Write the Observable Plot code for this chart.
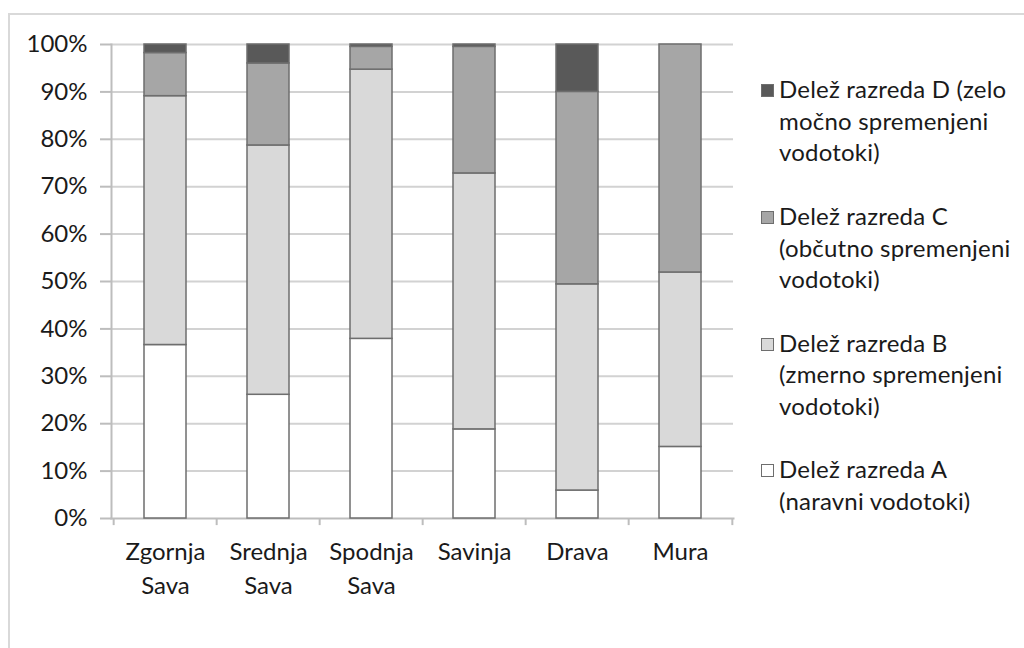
<!DOCTYPE html>
<html>
<head>
<meta charset="utf-8">
<script src="https://cdn.jsdelivr.net/npm/d3@7"></script>
<script src="https://cdn.jsdelivr.net/npm/@observablehq/plot@0.6"></script>
<style>
  html, body { margin: 0; padding: 0; background: #fff; }
  #wrap { position: relative; width: 1024px; height: 648px; overflow: hidden; font-family: Lato, "Open Sans", sans-serif; }
  #border { position: absolute; left: 8px; top: 13px; width: 1100px; height: 700px; border: 2px solid #d9d9d9; box-sizing: border-box; }
  #chart { position: absolute; left: 0; top: 0; }
  #legend { position: absolute; left: 761px; top: 73px; font-size: 24px; line-height: 31.7px; color: #1a1a1a; letter-spacing: 0.2px; }
  .item { position: relative; padding-left: 18px; margin-bottom: 31.7px; white-space: nowrap; }
  .sw { position: absolute; left: 0; top: 11px; width: 11px; height: 11px; border: 1px solid #6e6e6e; }
</style>
</head>
<body>
<div id="wrap">
  <div id="border"></div>
  <div id="chart"></div>
  <div id="legend"></div>
</div>
<script>
const categories = ["Zgornja Sava", "Srednja Sava", "Spodnja Sava", "Savinja", "Drava", "Mura"];
const classes = ["A", "B", "C", "D"];
const shareA = [36.6, 26.1, 37.9, 18.8, 5.9, 15.1];
const shareB = [52.5, 52.6, 56.8, 54.0, 43.5, 36.8];
const shareC = [9.1, 17.3, 4.8, 26.7, 40.6, 48.1];
const shareD = [1.8, 4.0, 0.5, 0.5, 10.0, 0.0];
const yTicks = [0, 10, 20, 30, 40, 50, 60, 70, 80, 90, 100];
const legendLabels = [
  "Delež razreda D (zelo\nmočno spremenjeni\nvodotoki)",
  "Delež razreda C\n(občutno spremenjeni\nvodotoki)",
  "Delež razreda B\n(zmerno spremenjeni\nvodotoki)",
  "Delež razreda A\n(naravni vodotoki)"
];
const legendClasses = ["D", "C", "B", "A"];
const fills = ["#ffffff", "#d9d9d9", "#a6a6a6", "#595959"];

const series = [shareA, shareB, shareC, shareD];
const data = categories.flatMap((c, i) => classes.map((k, j) => ({river: c, cls: k, value: series[j][i]})));

const W = 1024, H = 648, ml = 111, mr = 291, mt = 44, mb = 130;
const step = (W - ml - mr) / categories.length;

const chart = Plot.plot({
  width: W, height: H,
  marginLeft: ml, marginRight: mr, marginTop: mt, marginBottom: mb,
  style: {fontFamily: "Lato, 'Open Sans', sans-serif", fontSize: "24px", color: "#1a1a1a", background: "transparent"},
  x: {domain: categories, paddingInner: 0.595, paddingOuter: 0.2975, label: null},
  y: {domain: [0, 100], label: null},
  color: {domain: classes, range: fills},
  marks: [
    Plot.ruleY(yTicks.filter(d => d > 0), {y: d => d, stroke: "#d2d2d2", strokeWidth: 2}),
    Plot.frame({anchor: "left", stroke: "#bdbdbd", strokeWidth: 2}),
    Plot.frame({anchor: "bottom", stroke: "#bdbdbd", strokeWidth: 2}),
    Plot.ruleX(categories, {x: d => d, dx: -step / 2, y1: 0, y2: -1.5, stroke: "#bdbdbd", strokeWidth: 2}),
    Plot.ruleX(categories.slice(-1), {x: d => d, dx: step / 2, y1: 0, y2: -1.5, stroke: "#bdbdbd", strokeWidth: 2}),
    Plot.barY(data, {x: "river", y: "value", fill: "cls", order: classes, stroke: "#6e6e6e", strokeWidth: 1.5}),
    Plot.axisY({ticks: yTicks, tickFormat: d => d + "%", tickSize: 11, tickPadding: 13, stroke: "#bdbdbd", strokeWidth: 2, fill: "#1a1a1a", fontSize: 24}),
    Plot.axisX({tickSize: 0, tickPadding: 18, tickFormat: d => d.replace(" ", "\n"), lineHeight: 1.4, fill: "#1a1a1a", fontSize: 24})
  ]
});
document.getElementById("chart").appendChild(chart);

const legend = document.getElementById("legend");
legendLabels.forEach((txt, i) => {
  const item = document.createElement("div");
  item.className = "item";
  const sw = document.createElement("div");
  sw.className = "sw";
  sw.style.background = fills[classes.indexOf(legendClasses[i])];
  item.appendChild(sw);
  txt.split("\n").forEach((line, j) => {
    if (j > 0) item.appendChild(document.createElement("br"));
    item.appendChild(document.createTextNode(line));
  });
  legend.appendChild(item);
});
</script>
</body>
</html>
